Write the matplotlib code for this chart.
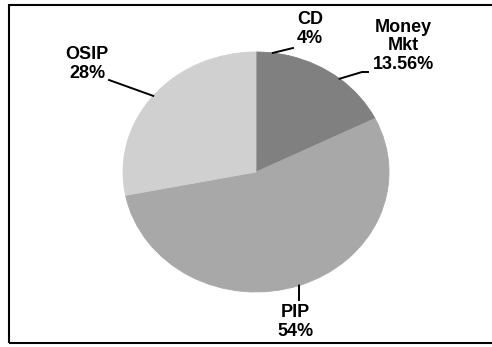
import numpy as np
import matplotlib.pyplot as plt
from matplotlib.lines import Line2D

# Portfolio allocation
labels = ["CD", "Money\nMkt", "PIP", "OSIP"]
shares = [4, 13.56, 54, 28]
pct_text = ["4%", "13.56%", "54%", "28%"]
colors = ["#808080", "#808080", "#a8a8a8", "#d0d0d0"]

W, H = 492, 347
fig = plt.figure(figsize=(W / 100, H / 100), dpi=100)
ax = fig.add_axes([0, 0, 1, 1])

wedges, _ = ax.pie(shares, colors=colors, startangle=90, counterclock=False,
                   radius=1.0, center=(0, 0))
for w, c in zip(wedges, colors):
    w.set_edgecolor(c)
    w.set_linewidth(0.6)

# stretch the pie into a slight ellipse
cx, cy = 256, 172          # pixel centre (from top-left)
rx, ry = 133, 120          # pixel radii
ax.set_aspect("auto")
ax.set_xlim(-cx / rx, (W - cx) / rx)
ax.set_ylim(-(H - cy) / ry, cy / ry)
ax.axis("off")


def px(x, y):
    """pixel (from top-left) -> data coords"""
    return (x - cx) / rx, (cy - y) / ry


# label anchors (pixel) and leader end points (pixel)
label_pos = [(310, 29), (403, 46), (295, 322), (87, 64)]
leader_end = [[(293, 48)], [(362, 72), (368, 72)], [(299, 300)], [(109, 80)]]

for w, lab, pct, pos, ends in zip(wedges, labels, pct_text, label_pos, leader_end):
    mid = np.deg2rad((w.theta1 + w.theta2) / 2)
    sx, sy = np.cos(mid), np.sin(mid)
    pts = [(sx, sy)] + [px(*e) for e in ends]
    xs, ys = zip(*pts)
    ax.add_line(Line2D(xs, ys, color="black", lw=1.4))
    tx, ty = px(*pos)
    ax.text(tx, ty, f"{lab}\n{pct}", ha="center", va="center",
            fontsize=13, fontweight="bold", family="Liberation Sans",
            linespacing=1.1, color="black")

# frame around the chart
frame = plt.Rectangle((9 / W, 1 - 343 / H), (W + 20) / W, (343 - 5) / H,
                      transform=fig.transFigure, fill=False,
                      edgecolor="black", lw=1.5, clip_on=False)
fig.patches.append(frame)

fig.savefig("out.png", dpi=100)
